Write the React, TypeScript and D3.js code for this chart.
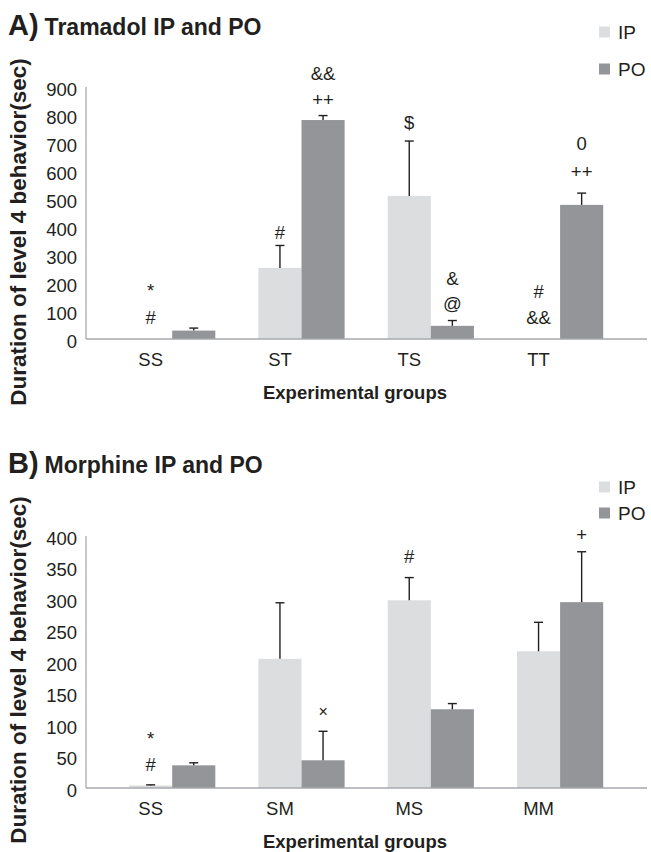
import React from "react";
import * as d3 from "d3";

// ---------- Data ----------
const groupsA = ["SS", "ST", "TS", "TT"];
const ipA = [0, 254, 511, 0];
const ipErrA = [0, 80, 196, 0];
const poA = [30, 782, 47, 479];
const poErrA = [9, 16, 19, 42];
const ticksA = [0, 100, 200, 300, 400, 500, 600, 700, 800, 900];
// annotation: [group, series, level (data units), text]
const notesA: [string, string, number, string][] = [
  ["SS", "IP", 172, "*"],
  ["SS", "IP", 76, "#"],
  ["ST", "IP", 379, "#"],
  ["ST", "PO", 857, "++"],
  ["ST", "PO", 950, "&&"],
  ["TS", "IP", 775, "$"],
  ["TS", "PO", 215, "&"],
  ["TS", "PO", 126, "@"],
  ["TT", "IP", 169, "#"],
  ["TT", "IP", 76, "&&"],
  ["TT", "PO", 697, "0"],
  ["TT", "PO", 597, "++"],
];

const groupsB = ["SS", "SM", "MS", "MM"];
const ipB = [4, 205, 298, 217];
const ipErrB = [1, 89, 36, 46];
const poB = [36, 44, 125, 295];
const poErrB = [4, 46, 9, 80];
const ticksB = [0, 50, 100, 150, 200, 250, 300, 350, 400];
const notesB: [string, string, number, string][] = [
  ["SS", "IP", 79, "*"],
  ["SS", "IP", 37, "#"],
  ["SM", "PO", 122, "×"],
  ["MS", "IP", 367, "#"],
  ["MM", "PO", 402, "+"],
];

const seriesNames = ["IP", "PO"];
const colors: Record<string, string> = { IP: "#dcdddf", PO: "#939598" };
const FONT = "'Liberation Sans', Arial, Helvetica, sans-serif";

type PanelProps = {
  letter: string;
  title: string;
  groups: string[];
  ip: number[];
  ipErr: number[];
  po: number[];
  poErr: number[];
  ticks: number[];
  notes: [string, string, number, string][];
  top: number; // plot top y
  titleY: number;
  legendY: [number, number];
  yTitleCenter: number;
};

function Panel(p: PanelProps) {
  const plotLeft = 86;
  const bandW = 129.3;
  const plotH = 252;
  const bottom = p.top + plotH;
  const yMax = p.ticks[p.ticks.length - 1];
  const y = d3.scaleLinear().domain([0, yMax]).range([bottom, p.top]);
  const x = d3
    .scaleBand<string>()
    .domain(p.groups)
    .range([plotLeft, plotLeft + bandW * p.groups.length])
    .padding(0);
  const bw = x.bandwidth();
  const sub = d3
    .scaleBand<string>()
    .domain(["", ...seriesNames])
    .range([0, bw])
    .padding(0);
  const values: Record<string, number[]> = { IP: p.ip, PO: p.po };
  const errs: Record<string, number[]> = { IP: p.ipErr, PO: p.poErr };
  const barW = sub.bandwidth();

  return (
    <g>
      {/* title */}
      <text x={8} y={p.titleY} fontFamily={FONT} fontWeight="bold" fill="#231f20">
        <tspan fontSize={29}>{p.letter}</tspan>
        <tspan fontSize={23} dx={6}>
          {p.title}
        </tspan>
      </text>
      {/* legend */}
      {seriesNames.map((s, i) => (
        <g key={s}>
          <rect x={599} y={p.legendY[i] - 5.5} width={11} height={11} fill={colors[s]} />
          <text
            x={618}
            y={p.legendY[i] + 7}
            fontFamily={FONT}
            fontSize={19}
            fill="#231f20"
          >
            {s}
          </text>
        </g>
      ))}
      {/* y tick labels */}
      {p.ticks.map((t) => (
        <text
          key={t}
          x={77}
          y={y(t) + 2}
          textAnchor="end"
          dominantBaseline="central"
          fontFamily={FONT}
          fontSize={18.5}
          fill="#231f20"
        >
          {t}
        </text>
      ))}
      {/* y title */}
      <text
        transform={`translate(26,${p.yTitleCenter}) rotate(-90)`}
        textAnchor="middle"
        fontFamily={FONT}
        fontWeight="bold"
        fontSize={22.5}
        fill="#231f20"
      >
        Duration of level 4 behavior(sec)
      </text>
      {/* bars */}
      {p.groups.map((g, gi) =>
        seriesNames.map((s) => {
          const v = values[s][gi];
          const e = errs[s][gi];
          const bx = (x(g) as number) + (sub(s) as number);
          const cx = bx + barW / 2;
          return (
            <g key={g + s}>
              {v > 0 && (
                <rect x={bx} y={y(v)} width={barW} height={y(0) - y(v)} fill={colors[s]} />
              )}
              {e > 0 && (
                <g stroke="#231f20" strokeWidth={1.4}>
                  <line x1={cx} x2={cx} y1={y(v)} y2={y(v + e)} />
                  <line x1={cx - 4.5} x2={cx + 4.5} y1={y(v + e)} y2={y(v + e)} />
                </g>
              )}
            </g>
          );
        })
      )}
      {/* axes */}
      <line x1={plotLeft} x2={plotLeft} y1={p.top} y2={bottom} stroke="#a7a9ac" strokeWidth={1.3} />
      <line x1={plotLeft} x2={647} y1={bottom} y2={bottom} stroke="#a7a9ac" strokeWidth={1.6} />
      {/* category labels */}
      {p.groups.map((g) => (
        <text
          key={g}
          x={(x(g) as number) + bw / 2}
          y={bottom + 27}
          textAnchor="middle"
          fontFamily={FONT}
          fontSize={18.5}
          fill="#231f20"
        >
          {g}
        </text>
      ))}
      <text
        x={355}
        y={bottom + 60}
        textAnchor="middle"
        fontFamily={FONT}
        fontWeight="bold"
        fontSize={18.5}
        fill="#231f20"
      >
        Experimental groups
      </text>
      {/* annotations */}
      {p.notes.map(([g, s, lvl, t], i) => (
        <text
          key={i}
          x={(x(g) as number) + (sub(s) as number) + barW / 2}
          y={y(lvl)}
          textAnchor="middle"
          dominantBaseline="central"
          fontFamily={FONT}
          fontSize={t === "×" ? 16 : 18.5}
          fill="#231f20"
        >
          {t}
        </text>
      ))}
    </g>
  );
}

export default function App() {
  return (
    <svg
      width={651}
      height={852}
      style={{ position: "absolute", left: 0, top: 0, background: "#fff" }}
    >
      <rect width={651} height={852} fill="#fff" />
      <Panel
        letter="A)"
        title="Tramadol IP and PO"
        groups={groupsA}
        ip={ipA}
        ipErr={ipErrA}
        po={poA}
        poErr={poErrA}
        ticks={ticksA}
        notes={notesA}
        top={87}
        titleY={35}
        legendY={[32, 69]}
        yTitleCenter={232}
      />
      <Panel
        letter="B)"
        title="Morphine IP and PO"
        groups={groupsB}
        ip={ipB}
        ipErr={ipErrB}
        po={poB}
        poErr={poErrB}
        ticks={ticksB}
        notes={notesB}
        top={536}
        titleY={473}
        legendY={[487, 513]}
        yTitleCenter={670}
      />
    </svg>
  );
}
